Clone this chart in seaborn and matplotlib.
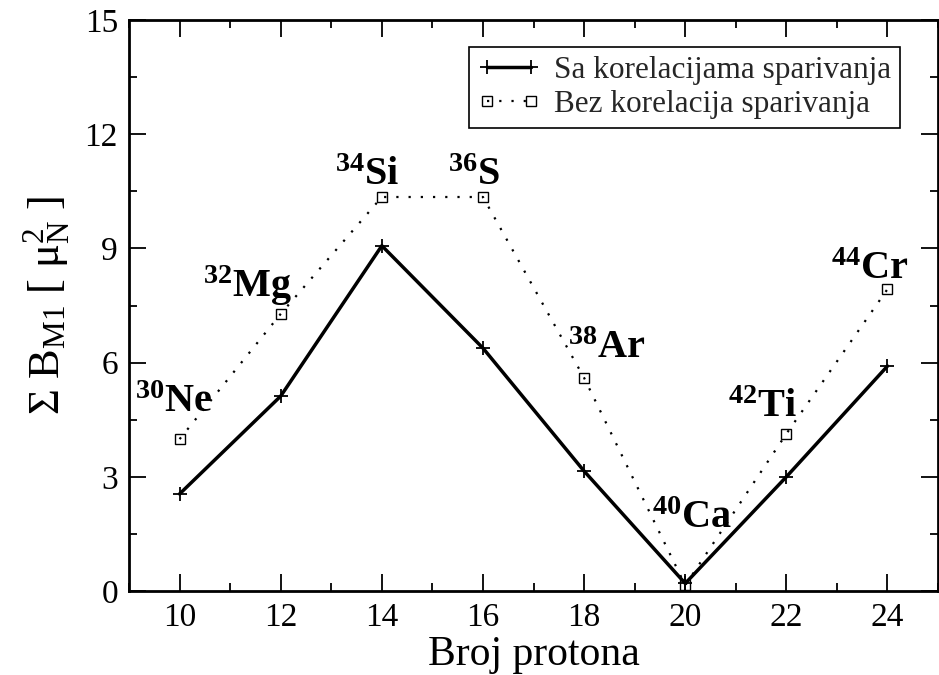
import matplotlib
matplotlib.use("Agg")
import matplotlib.pyplot as plt
from matplotlib.ticker import MultipleLocator
import seaborn as sns
import pandas as pd

# Proton numbers of the N = 20 isotones
protons = [10, 12, 14, 16, 18, 20, 22, 24]
# Summed M1 strength with and without pairing correlations
with_pairing = [2.55, 5.12, 9.07, 6.38, 3.15, 0.20, 3.00, 5.91]
without_pairing = [3.99, 7.28, 10.35, 10.35, 5.60, 0.15, 4.13, 7.93]
series_names = ["Sa korelacijama sparivanja", "Bez korelacija sparivanja"]

nuclide_mass = [30, 32, 34, 36, 38, 40, 42, 44]
nuclide_symbol = ["Ne", "Mg", "Si", "S", "Ar", "Ca", "Ti", "Cr"]
label_x = [9.12, 10.46, 13.07, 15.30, 17.68, 19.34, 20.84, 22.89]
label_y = [4.70, 7.72, 10.66, 10.66, 6.12, 1.65, 4.57, 8.20]

x_ticks = [10, 12, 14, 16, 18, 20, 22, 24]
y_ticks = [0, 3, 6, 9, 12, 15]

sns.set_theme(style="white")
plt.rcParams["font.family"] = ["Liberation Serif", "DejaVu Serif"]
plt.rcParams["mathtext.fontset"] = "custom"
plt.rcParams["mathtext.rm"] = "Liberation Serif"
plt.rcParams["mathtext.it"] = "Liberation Serif:italic"
plt.rcParams["mathtext.bf"] = "Liberation Serif:bold"

df = pd.DataFrame({"Z": protons, "with": with_pairing, "without": without_pairing})

fig = plt.figure(figsize=(9.39, 6.75), dpi=100)
ax = fig.add_axes([0.1374, 0.1244, 0.8616, 0.846])

sns.lineplot(data=df, x="Z", y="with", ax=ax, color="black", linewidth=2.5,
             marker="+", markersize=10, markeredgewidth=1.3,
             markeredgecolor="black", label=series_names[0])
sns.lineplot(data=df, x="Z", y="without", ax=ax, color="black", linewidth=1.6,
             linestyle=(0, (1, 4.5)), marker="s", markersize=7,
             markerfacecolor="none", markeredgecolor="black", markeredgewidth=1.0,
             label=series_names[1])

for m, s, lx, ly in zip(nuclide_mass, nuclide_symbol, label_x, label_y):
    ax.text(lx, ly, r"$\mathbf{{}^{%d}%s}$" % (m, s), fontsize=29,
            ha="left", va="baseline", color="black")

ax.set_xlim(9, 25)
ax.set_ylim(0, 15)
ax.set_xticks(x_ticks)
ax.set_yticks(y_ticks)
ax.xaxis.set_minor_locator(MultipleLocator(1))
ax.yaxis.set_minor_locator(MultipleLocator(1.5))
ax.tick_params(which="both", direction="in", top=True, right=True,
               bottom=True, left=True, color="black", width=1.3,
               labelsize=24, labelcolor="black", pad=8)
ax.tick_params(which="major", length=12)
ax.tick_params(which="minor", length=6)
for sp in ax.spines.values():
    sp.set_color("black")
    sp.set_linewidth(2.0)

ax.set_xlabel("Broj protona", fontsize=30, color="black", labelpad=2)
ax.set_ylabel(r"$\Sigma\ \mathrm{B_{M1}}\ [\ \mathrm{\mu_N^{2}}\ ]$",
              fontsize=32, color="black", labelpad=8)

leg = ax.legend(loc="upper right", bbox_to_anchor=(0.953, 0.953),
                fontsize=22.5, frameon=True, fancybox=False, shadow=False,
                numpoints=2, handlelength=2.0, handletextpad=0.42,
                borderpad=0.3, labelspacing=0.15, borderaxespad=0.0)
leg.get_frame().set_edgecolor("black")
leg.get_frame().set_linewidth(1.2)
leg.get_frame().set_facecolor("white")
leg.get_frame().set_alpha(1.0)

fig.savefig("out.png", dpi=100)
